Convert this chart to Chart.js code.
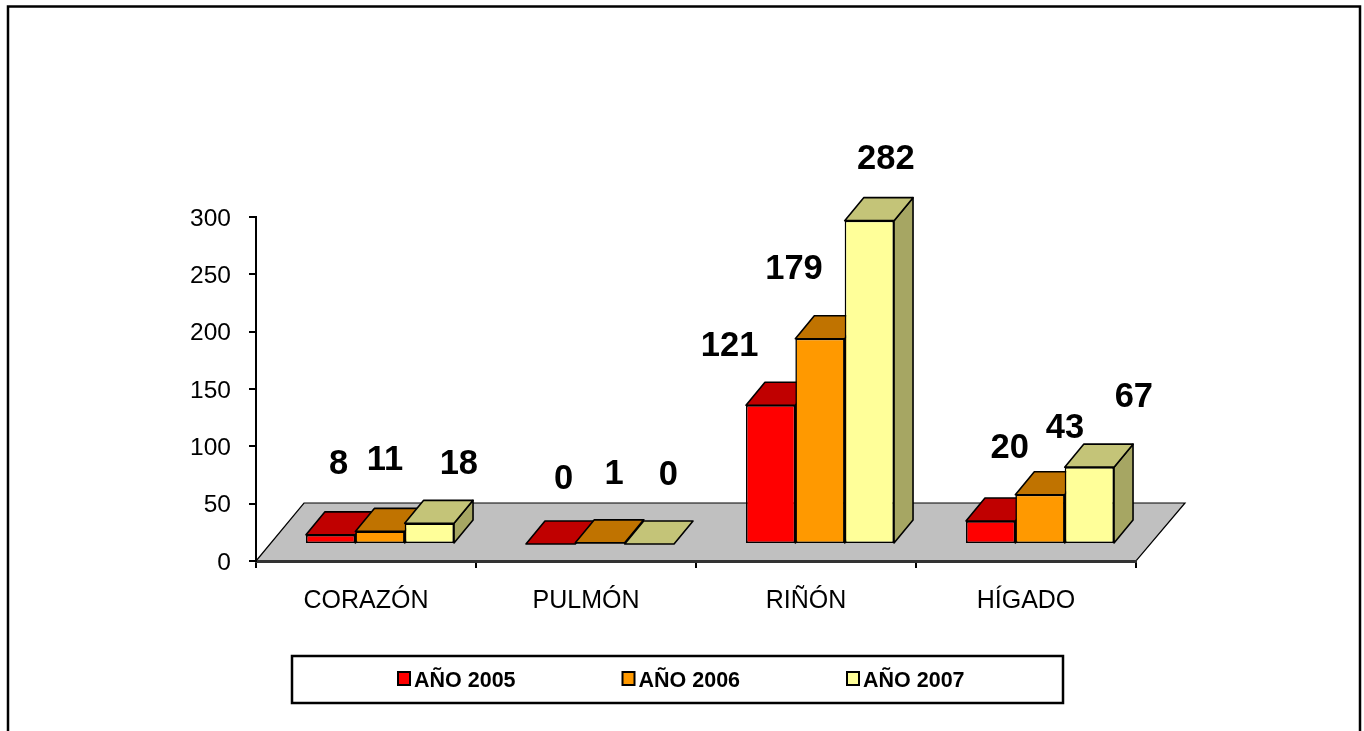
<!DOCTYPE html>
<html><head><meta charset="utf-8">
<style>html,body{margin:0;padding:0;background:#fff;overflow:hidden}#wrap{width:1364px;height:731px;position:relative}</style>
<script src="https://cdn.jsdelivr.net/npm/chart.js@4"></script>
</head><body><div id="wrap"><canvas id="c" width="1364" height="731"></canvas></div>
<script>
const categories = ['CORAZÓN','PULMÓN','RIÑÓN','HÍGADO'];
const seriesNames = ['AÑO 2005','AÑO 2006','AÑO 2007'];
const values2005 = [8,0,121,20];
const values2006 = [11,1,179,43];
const values2007 = [18,0,282,67];
const frontColors = ['#FF0000','#FF9900','#FFFF99'];
const topColors = ['#C00000','#C07300','#C4C478'];
const sideColors = ['#A00000','#A06000','#A6A663'];
const labelDx = [[8,13,-41,19],[5,14,-26,25],[29.5,19,16.5,44.5]];
const labelDy = [[-70,-65,-59,-73],[-71,-68,-69,-66],[-59,-69,-61,-70]];
const SHIFT_X = 14, SHIFT_Y = -17, DEPTH_X = 19, DEPTH_Y = -23;
const SANS = '"Liberation Sans", Arial, sans-serif';

const scene = {
  id:'scene',
  beforeDraw(chart){
    const ctx = chart.ctx;
    ctx.save();
    ctx.fillStyle='#fff'; ctx.fillRect(0,0,1364,731);
    ctx.strokeStyle='#000'; ctx.lineWidth=2.5;
    ctx.strokeRect(8,6.5,1352,740);
    ctx.restore();
  },
  beforeDatasetsDraw(chart){
    const ctx = chart.ctx, a = chart.chartArea;
    ctx.save();
    const dx = 48, dy = -58;
    ctx.beginPath();
    ctx.moveTo(a.left,a.bottom); ctx.lineTo(a.left+dx,a.bottom+dy);
    ctx.lineTo(a.right+dx+1,a.bottom+dy); ctx.lineTo(a.right,a.bottom); ctx.closePath();
    ctx.fillStyle='#C0C0C0'; ctx.fill();
    ctx.strokeStyle='#000'; ctx.lineWidth=1.2; ctx.stroke();
    ctx.restore();
    ctx.save();
    ctx.translate(SHIFT_X,SHIFT_Y);
    ctx.lineWidth=1.6; ctx.strokeStyle='#000'; ctx.lineJoin='round';
    const drawFace = (pts,fill,stroke)=>{
      ctx.beginPath(); pts.forEach((p,i)=>i?ctx.lineTo(p[0],p[1]):ctx.moveTo(p[0],p[1])); ctx.closePath();
      ctx.fillStyle=fill; ctx.fill(); if(stroke) ctx.stroke();
    };
    chart.data.datasets.forEach((ds,i)=>{
      chart.getDatasetMeta(i).data.forEach((bar)=>{
        const l=bar.x-bar.width/2, r=bar.x+bar.width/2, t=bar.y, b=bar.base;
        if(b-t>0.1) drawFace([[r,t],[r+DEPTH_X,t+DEPTH_Y],[r+DEPTH_X,b+DEPTH_Y],[r,b]],sideColors[i],true);
        drawFace([[l,t],[l+DEPTH_X,t+DEPTH_Y],[r+DEPTH_X,t+DEPTH_Y],[r,t]],topColors[i],true);
      });
    });
    ctx.restore();
    ctx.save();
    ctx.translate(SHIFT_X,SHIFT_Y);
  },
  afterDatasetsDraw(chart){
    const ctx = chart.ctx;
    ctx.restore();
    ctx.save();
    ctx.fillStyle='#000'; ctx.font='bold 34.5px '+SANS;
    ctx.textAlign='center'; ctx.textBaseline='middle';
    chart.data.datasets.forEach((ds,i)=>{
      chart.getDatasetMeta(i).data.forEach((bar,j)=>{
        ctx.fillText(String(ds.data[j]), bar.x+SHIFT_X+labelDx[i][j], bar.y+SHIFT_Y+labelDy[i][j]);
      });
    });
    ctx.restore();
    ctx.save();
    ctx.strokeStyle='#000'; ctx.lineWidth=2.5;
    ctx.fillStyle='#fff';
    ctx.fillRect(292,656,771,47); ctx.strokeRect(292,656,771,47);
    ctx.font='bold 21.5px '+SANS; ctx.textBaseline='alphabetic'; ctx.textAlign='left';
    seriesNames.forEach((n,i)=>{
      const x = 398 + i*224.5;
      ctx.fillStyle=frontColors[i]; ctx.fillRect(x,672,12,13);
      ctx.lineWidth=2; ctx.strokeRect(x,672,12,13);
      ctx.fillStyle='#000'; ctx.fillText(n,x+16,687);
    });
    ctx.restore();
  }
};

// Tick digits sit slightly lower in the reference than canvas middle baseline puts them.
function nudgeLabels(scale, dy){
  if(scale._nudged) return;
  scale._nudged = true;
  const orig = scale.drawLabels;
  scale.drawLabels = function(area){
    const c = this.ctx; c.save(); c.translate(0,dy); orig.call(this,area); c.restore();
  };
}

new Chart(document.getElementById('c'),{
  type:'bar',
  data:{labels:categories,datasets:[
    {label:seriesNames[0],data:values2005,backgroundColor:frontColors[0]},
    {label:seriesNames[1],data:values2006,backgroundColor:frontColors[1]},
    {label:seriesNames[2],data:values2007,backgroundColor:frontColors[2]}
  ].map(d=>Object.assign(d,{borderColor:'#000',borderWidth:1.6,borderSkipped:false,clip:false,categoryPercentage:0.673,barPercentage:1}))},
  plugins:[scene],
  options:{
    responsive:false,animation:false,
    layout:{padding:{left:186,right:228,top:217,bottom:100}},
    plugins:{legend:{display:false},title:{display:false},tooltip:{enabled:false}},
    scales:{
      x:{
        afterFit(s){s.height=70;},
        grid:{drawOnChartArea:false,drawTicks:true,tickLength:7,color:'#000',lineWidth:2,offset:true},
        border:{display:true,color:'#333',width:3,z:1},
        ticks:{color:'#000',font:{family:SANS,size:25},padding:18,maxRotation:0}
      },
      y:{
        min:0,max:300,
        afterFit(s){s.width=70;},
        afterUpdate(s){nudgeLabels(s,2);},
        grid:{drawOnChartArea:false,drawTicks:true,tickLength:7,color:'#000',lineWidth:2},
        border:{display:true,color:'#000',width:2,z:1},
        ticks:{stepSize:50,color:'#000',font:{family:SANS,size:24.5},padding:18}
      }
    }
  }
});
</script></body></html>
